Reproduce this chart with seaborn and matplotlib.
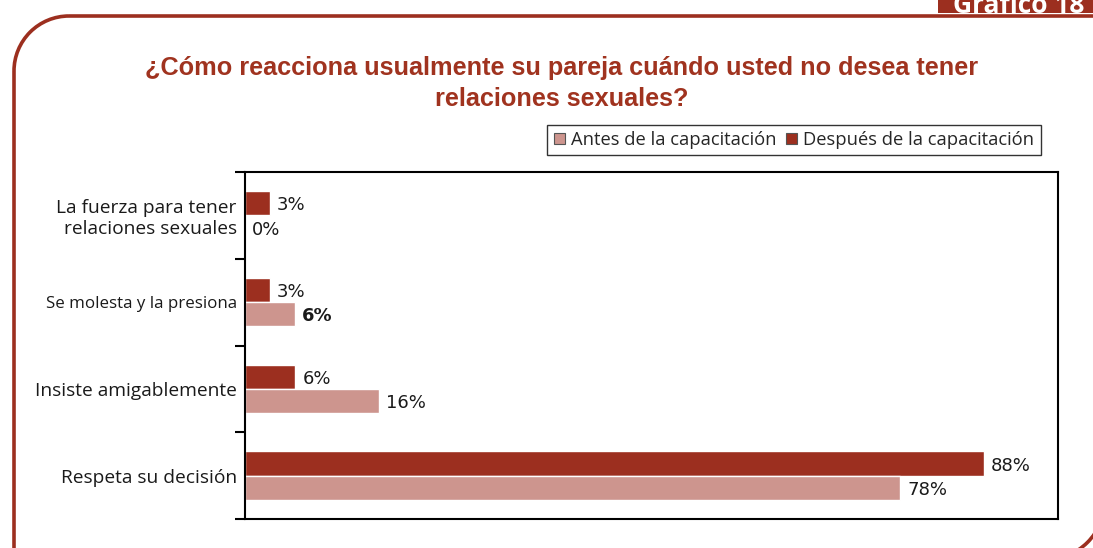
import matplotlib
matplotlib.use("Agg")
import matplotlib.pyplot as plt
import seaborn as sns
import pandas as pd
from matplotlib.patches import Patch, Rectangle, Arc
from matplotlib.lines import Line2D

categories = ["La fuerza para tener\nrelaciones sexuales", "Se molesta y la presiona",
              "Insiste amigablemente", "Respeta su decisión"]
antes = [0, 6, 16, 78]
despues = [3, 3, 6, 88]
series = ["Antes de la capacitación", "Después de la capacitación"]
bold_labels = {("Antes de la capacitación", "Se molesta y la presiona"): True}
label_sizes = [13.8, 12.2, 13.8, 13.8]

DARK = "#9c2f1f"
LIGHT = "#cd958e"
TITLE_C = "#a0331f"
FONT = ["Open Sans", "DejaVu Sans"]

sns.set_theme(style="white")
plt.rcParams['font.family'] = FONT

rows = []
for c, a, d in zip(categories, antes, despues):
    rows.append({"cat": c, "val": d, "serie": series[1]})
    rows.append({"cat": c, "val": a, "serie": series[0]})
df = pd.DataFrame(rows)

W, H = 1093, 548
fig = plt.figure(figsize=(W / 100, H / 100), dpi=100)

# decoration layer in pixel coordinates
deco = fig.add_axes([0, 0, 1, 1], zorder=0)
deco.set_xlim(0, W)
deco.set_ylim(H, 0)
deco.axis("off")
r = 55
lw = 2.6
x0, y0 = 14, 16
deco.add_line(Line2D([x0 + r, W], [y0, y0], color=DARK, lw=lw, solid_capstyle="butt"))
deco.add_line(Line2D([x0, x0], [y0 + r, H], color=DARK, lw=lw, solid_capstyle="butt"))
deco.add_patch(Arc((x0 + r, y0 + r), 2 * r, 2 * r, theta1=180, theta2=270, color=DARK, lw=lw))
deco.add_patch(Arc((1045, 500), 120, 120, theta1=0, theta2=90, color=DARK, lw=lw))
deco.add_patch(Rectangle((938, -2), 160, 15, color=DARK, lw=0))
deco.text(953, 13, "Gráfico 18", color="white", fontsize=19, fontweight="bold",
          ha="left", va="baseline", family=FONT)

fig.text(562 / W, 1 - 83.5 / H, "¿Cómo reacciona usualmente su pareja cuándo usted no desea tener\nrelaciones sexuales?",
         ha="center", va="center", color=TITLE_C, fontsize=18.2, fontweight="bold",
         family=["Liberation Sans", "DejaVu Sans"], linespacing=1.33)

ax = fig.add_axes([245 / W, 1 - 519 / H, (1058 - 245) / W, (519 - 172) / H], zorder=1)
sns.barplot(data=df, y="cat", x="val", hue="serie", hue_order=[series[1], series[0]],
            palette=[DARK, LIGHT], orient="h", width=0.56, ax=ax, legend=False,
            saturation=1, errorbar=None)
ax.set_xlim(0, 96.8)
ax.set_ylim(3.5, -0.5)
ax.set_xlabel("")
ax.set_ylabel("")
ax.set_xticks([])
ax.set_yticks(range(len(categories)))
ax.set_yticklabels(categories, color="#1a1a1a")
for t, s in zip(ax.get_yticklabels(), label_sizes):
    t.set_fontsize(s)
ax.set_yticks([-0.5, 0.5, 1.5, 2.5, 3.5], minor=True)
ax.tick_params(axis="y", which="major", length=0, pad=6)
ax.tick_params(axis="y", which="minor", length=7, width=1.5, color="black", left=True, direction="out")
for s in ax.spines.values():
    s.set_color("black")
    s.set_linewidth(1.5)
    s.set_visible(True)

# value labels
for i, c in enumerate(categories):
    for serie, vals, off in [(series[1], despues, -0.14), (series[0], antes, 0.14)]:
        v = vals[i]
        bold = bold_labels.get((serie, c), False)
        ax.annotate(f"{v}%", xy=(v, i + off), xytext=(5, -1.5), textcoords="offset points",
                    ha="left", va="center", fontsize=13, color="#1a1a1a",
                    family=["DejaVu Sans"],
                    fontweight="bold" if bold else "normal")

handles = [Patch(facecolor=LIGHT, edgecolor="#555555", lw=0.8),
           Patch(facecolor=DARK, edgecolor="#555555", lw=0.8)]
leg = fig.legend(handles, series, loc="center", bbox_to_anchor=(794 / W, 1 - 140 / H),
                 ncol=2, fontsize=13.2, frameon=True, fancybox=False, handlelength=0.6,
                 handleheight=0.6, handletextpad=0.35, columnspacing=0.5, borderpad=0.35)
leg.get_frame().set_edgecolor("black")
leg.get_frame().set_linewidth(1.0)

fig.savefig("out.png", dpi=100)
